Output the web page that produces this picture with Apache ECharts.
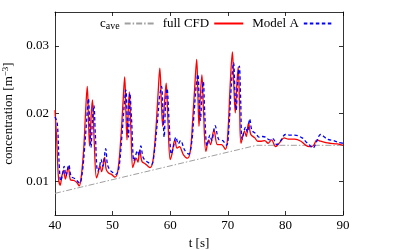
<!DOCTYPE html>
<html>
<head>
<meta charset="utf-8">
<script src="https://cdn.jsdelivr.net/npm/echarts@6/dist/echarts.min.js"></script>
<style>html,body{margin:0;padding:0;background:#fff}#c{width:398px;height:250px}</style>
</head>
<body>
<div id="c"></div>
<script>
// ---- data ----
const seriesNames = ['c_ave', 'full CFD', 'Model A'];
const xTicks = [40, 50, 60, 70, 80, 90];
const yTicks = [0.01, 0.02, 0.03];

const cAve = [[40, 0.0082], [75, 0.0153], [90, 0.0153]];

const fullCFD = [
[40.0,0.0205],[40.3,0.0160],[40.6,0.0105],[40.9,0.0094],[41.2,0.0108],[41.5,0.0116],[41.8,0.0103],
[42.3,0.0121],[42.7,0.0102],[43.3,0.0101],[43.8,0.0098],[44.2,0.0093],[44.6,0.0110],[45.0,0.0150],
[45.3,0.0200],[45.6,0.0240],[45.8,0.0195],[46.0,0.0152],[46.3,0.0200],[46.5,0.0220],[46.8,0.0160],
[47.2,0.0105],[47.5,0.0112],[47.8,0.0123],[48.1,0.0114],[48.6,0.0135],[48.9,0.0117],[49.3,0.0112],
[49.8,0.0110],[50.4,0.0106],[50.9,0.0115],[51.4,0.0160],[51.8,0.0215],[52.1,0.0254],[52.3,0.0205],
[52.5,0.0161],[52.7,0.0200],[52.9,0.0232],[53.2,0.0170],[53.5,0.0120],[53.8,0.0128],[54.1,0.0134],
[54.4,0.0128],[54.7,0.0146],[55.1,0.0129],[55.6,0.0126],[56.0,0.0123],[56.5,0.0120],[57.0,0.0130],
[57.5,0.0175],[57.9,0.0230],[58.2,0.0267],[58.45,0.0220],[58.7,0.0181],[59.0,0.0215],[59.3,0.0245],
[59.6,0.0190],[60.0,0.0132],[60.3,0.0140],[60.8,0.0161],[61.2,0.0149],[61.6,0.0151],[62.3,0.0139],
[63.0,0.0134],[63.5,0.0145],[63.9,0.0190],[64.3,0.0245],[64.6,0.0280],[64.8,0.0230],[65.0,0.0181],
[65.2,0.0220],[65.5,0.0257],[65.8,0.0200],[66.2,0.0144],[66.7,0.0161],[67.0,0.0154],[67.6,0.0176],
[68.2,0.0154],[68.9,0.0154],[69.6,0.0147],[70.0,0.0170],[70.4,0.0240],[70.8,0.0291],[71.05,0.0240],
[71.3,0.0201],[71.55,0.0240],[71.8,0.0269],[72.05,0.0210],[72.3,0.0156],[72.9,0.0174],[73.2,0.0166],
[73.6,0.0186],[74.0,0.0169],[74.7,0.0164],[75.2,0.0159],[75.8,0.0159],[76.4,0.0160],[77.0,0.0156],
[77.6,0.0161],[78.3,0.0151],[79.0,0.0157],[79.8,0.0164],[80.5,0.0162],[81.6,0.0162],[82.7,0.0159],
[83.4,0.0154],[84.1,0.0151],[84.8,0.0152],[85.5,0.0161],[86.1,0.0159],[87.0,0.0157],[87.8,0.0156],
[89.0,0.0155],[90.0,0.0153]
];

const modelA = [
[40.0,0.0195],[40.4,0.0185],[40.7,0.0130],[41.0,0.0100],[41.3,0.0110],[41.6,0.0122],[41.9,0.0108],
[42.4,0.0124],[42.8,0.0107],[43.4,0.0104],[43.9,0.0100],[44.3,0.0097],[44.7,0.0110],[45.1,0.0145],
[45.5,0.0190],[45.8,0.0222],[46.05,0.0180],[46.25,0.0150],[46.5,0.0190],[46.75,0.0212],[47.0,0.0170],
[47.4,0.0115],[47.7,0.0120],[48.0,0.0132],[48.3,0.0122],[48.8,0.0148],[49.1,0.0125],[49.5,0.0117],
[50.0,0.0113],[50.6,0.0110],[51.1,0.0120],[51.6,0.0165],[52.0,0.0210],[52.3,0.0235],[52.55,0.0190],
[52.75,0.0165],[53.0,0.0230],[53.3,0.0190],[53.7,0.0130],[54.0,0.0138],[54.3,0.0145],[54.6,0.0138],
[54.9,0.0152],[55.3,0.0135],[55.8,0.0130],[56.3,0.0127],[56.8,0.0125],[57.2,0.0140],[57.8,0.0190],
[58.2,0.0228],[58.5,0.0240],[58.75,0.0200],[58.95,0.0165],[59.2,0.0215],[59.45,0.0237],[59.8,0.0190],
[60.2,0.0140],[60.5,0.0148],[61.0,0.0165],[61.4,0.0155],[61.8,0.0160],[62.5,0.0146],[63.2,0.0140],
[63.7,0.0155],[64.1,0.0195],[64.5,0.0240],[64.8,0.0258],[65.05,0.0215],[65.25,0.0190],[65.5,0.0225],
[65.75,0.0247],[66.0,0.0200],[66.4,0.0152],[66.9,0.0168],[67.2,0.0160],[67.8,0.0182],[68.4,0.0162],
[69.1,0.0160],[69.8,0.0153],[70.2,0.0180],[70.6,0.0240],[71.0,0.0275],[71.25,0.0230],[71.45,0.0205],
[71.75,0.0250],[72.0,0.0270],[72.25,0.0215],[72.5,0.0162],[73.1,0.0180],[73.4,0.0172],[73.8,0.0192],
[74.2,0.0175],[74.9,0.0170],[75.4,0.0165],[76.0,0.0166],[76.6,0.0165],[77.2,0.0161],[77.8,0.0163],
[78.5,0.0154],[79.2,0.0160],[80.0,0.0169],[80.8,0.0168],[81.6,0.0168],[82.9,0.0164],[83.6,0.0158],
[84.1,0.0154],[84.8,0.0149],[85.4,0.0158],[86.1,0.0169],[87.3,0.0162],[88.4,0.0160],[89.3,0.0157],
[90.0,0.0156]
];

// ---- chart ----
const FONT = '"Liberation Serif", "DejaVu Serif", serif';
const FS = 13;
const chart = echarts.init(document.getElementById('c'), null, {renderer: 'canvas'});
const axisLineStyle = {color: '#000', width: 0.8};
const baseX = {
  type: 'value', min: 40, max: 90, interval: 10,
  splitLine: {show: false},
  axisLine: {show: true, onZero: false, lineStyle: axisLineStyle},
  axisTick: {show: true, inside: true, length: 4, lineStyle: axisLineStyle}
};
const baseY = {
  type: 'value', min: 0.005, max: 0.035,
  splitLine: {show: false},
  axisLine: {show: true, onZero: false, lineStyle: axisLineStyle},
  axisTick: {show: true, inside: true, length: 4, customValues: yTicks, lineStyle: axisLineStyle}
};
chart.setOption({
  animation: false,
  backgroundColor: '#fff',
  textStyle: {fontFamily: FONT},
  grid: {left: 55, right: 55, top: 12, bottom: 35, containLabel: false, outerBoundsMode: 'none'},
  legend: {
    left: 100, top: 17, padding: 0, align: 'right', itemWidth: 29, itemHeight: 10, itemGap: 8,
    itemStyle: {opacity: 0},
    textStyle: {fontFamily: FONT, fontSize: FS, color: '#000',
      rich: {sub: {fontFamily: FONT, fontSize: 10, verticalAlign: 'bottom', padding: [6, 0, 0, 0], color: '#000'}}},
    formatter: n => n === 'c_ave' ? 'c{sub|ave}' : n,
    data: seriesNames
  },
  xAxis: [
    Object.assign({}, baseX, {
      position: 'bottom',
      axisLabel: {show: true, customValues: xTicks, margin: 4, color: '#000', fontSize: FS, fontFamily: FONT, formatter: v => String(v)},
      name: 't [s]', nameLocation: 'middle', nameGap: 20,
      nameTextStyle: {fontFamily: FONT, fontSize: FS, color: '#000'}
    }),
    Object.assign({}, baseX, {position: 'top', axisLabel: {show: false}})
  ],
  yAxis: [
    Object.assign({}, baseY, {
      position: 'left',
      axisLabel: {show: true, customValues: yTicks, margin: 6, color: '#000', fontSize: FS, fontFamily: FONT, formatter: v => v.toFixed(2)},
      name: 'concentration [m{sup|−3}]', nameLocation: 'middle', nameGap: 36, nameRotate: 90,
      nameTextStyle: {fontFamily: FONT, fontSize: FS, color: '#000',
        rich: {sup: {fontFamily: FONT, fontSize: 9, verticalAlign: 'top', padding: [0, 0, 6, 0], color: '#000'}}}
    }),
    Object.assign({}, baseY, {position: 'right', axisLabel: {show: false}})
  ],
  series: [
    {name: 'c_ave', type: 'line', data: cAve, symbol: 'none', xAxisIndex: 0, yAxisIndex: 0,
      lineStyle: {color: '#a0a0a0', width: 1, type: [6, 2, 1.5, 2]}, itemStyle: {color: '#a0a0a0'}, z: 2},
    {name: 'full CFD', type: 'line', data: fullCFD, symbol: 'none', smooth: 0.35,
      lineStyle: {color: '#ff0000', width: 1.3}, itemStyle: {color: '#ff0000'}, z: 3},
    {name: 'Model A', type: 'line', data: modelA, symbol: 'none', smooth: 0.35,
      lineStyle: {color: '#0000ff', width: 1.3, type: [3.5, 2.5]}, itemStyle: {color: '#0000ff'}, z: 4}
  ]
});
</script>
</body>
</html>
